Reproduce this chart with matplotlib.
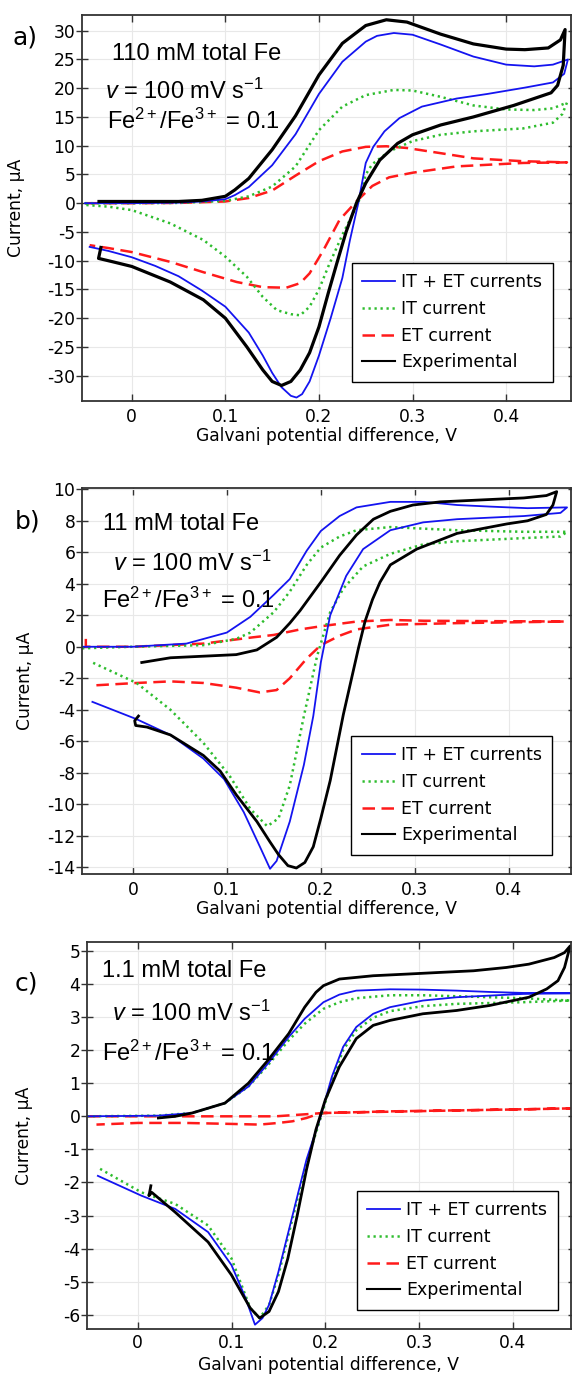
import matplotlib
matplotlib.use("Agg")
import matplotlib.pyplot as plt

# Cyclic voltammograms, potential in V and current in uA.
# Every curve is listed forward scan first, then the reverse scan.

# ---- panel a) 110 mM total Fe
a_sim_E = [-0.05, 0.0, 0.05, 0.075, 0.1, 0.11, 0.125, 0.15, 0.175, 0.2, 0.225, 0.25, 0.262, 0.28, 0.3, 0.33, 0.365, 0.4,
           0.43, 0.45, 0.466,
           0.462, 0.45, 0.42, 0.38, 0.347, 0.31, 0.286, 0.27, 0.258, 0.25, 0.242, 0.233, 0.225, 0.2125, 0.2, 0.19,
           0.182, 0.176, 0.17, 0.16, 0.15, 0.14, 0.125, 0.1, 0.075, 0.05, 0.025, 0.0, -0.025, -0.045]
a_sim_I = [0, 0, 0.1, 0.3, 0.7, 1.4, 2.8, 6.6, 12.0, 19.0, 24.6, 28.1, 29.1, 29.6, 29.3, 27.6, 25.5, 24.1,
           23.8, 24.1, 25.0,
           22.5, 21.0, 20.1, 19.0, 18.2, 16.8, 14.8, 12.5, 9.8, 7.0, 0.0, -6.5, -13.0, -20.0, -26.5, -31.0,
           -33.2, -33.8, -33.5, -32.0, -29.5, -26.5, -22.5, -18.0, -15.2, -12.7, -10.9, -9.4, -8.3, -7.6]

a_it_E = [-0.05, 0.0, 0.05, 0.1, 0.125, 0.15, 0.175, 0.2, 0.225, 0.25, 0.28, 0.3, 0.33, 0.365, 0.4, 0.43, 0.45, 0.465,
          0.46, 0.45, 0.418, 0.365, 0.33, 0.3, 0.275, 0.257, 0.25, 0.242, 0.225, 0.21, 0.2, 0.19, 0.18, 0.17, 0.155,
          0.14, 0.123, 0.1, 0.0765, 0.041, 0.0, -0.025, -0.05]
a_it_I = [0, 0, 0.05, 0.4, 1.2, 2.9, 6.4, 12.7, 16.8, 18.8, 19.7, 19.6, 18.5, 17.0, 16.3, 16.2, 16.5, 17.5,
          15.5, 14.0, 13.0, 12.5, 11.9, 10.8, 9.0, 6.8, 5.0, 0.0, -5.5, -11.0, -15.0, -18.0, -19.5, -19.3, -18.6,
          -16.3, -12.8, -9.3, -6.4, -3.5, -1.2, -0.6, -0.3]

a_et_E = [-0.05, 0.0, 0.05, 0.1, 0.125, 0.15, 0.175, 0.2, 0.225, 0.25, 0.272, 0.294, 0.33, 0.365, 0.418, 0.465,
          0.418, 0.347, 0.3, 0.275, 0.257, 0.24, 0.222, 0.205, 0.19, 0.18, 0.165, 0.14, 0.112, 0.0765, 0.041, 0.0,
          -0.025, -0.045]
a_et_I = [0, 0, 0.05, 0.3, 0.9, 2.2, 4.8, 7.3, 9.0, 9.8, 9.9, 9.6, 8.7, 7.8, 7.3, 7.1,
          7.0, 6.4, 5.3, 4.5, 3.0, 0.3, -2.9, -8.1, -12.2, -13.9, -14.7, -14.6, -13.7, -12.0, -10.2, -8.5,
          -7.8, -7.3]

a_exp_E = [-0.035, 0.0, 0.05, 0.075, 0.1, 0.11, 0.125, 0.15, 0.175, 0.2, 0.225, 0.25, 0.272, 0.294, 0.33, 0.365, 0.4,
           0.42, 0.445, 0.458, 0.463,
           0.461, 0.455, 0.448, 0.408, 0.365, 0.33, 0.3, 0.284, 0.265, 0.25, 0.24, 0.229, 0.219, 0.21, 0.2, 0.19,
           0.18, 0.17, 0.16, 0.15, 0.14, 0.123, 0.1, 0.0765, 0.041, 0.0, -0.02, -0.0355, -0.033]
a_exp_I = [0.3, 0.3, 0.3, 0.5, 1.2, 2.3, 4.3, 9.3, 15.2, 22.3, 27.8, 30.9, 31.9, 31.5, 29.4, 27.7, 26.8,
           26.7, 27.0, 28.4, 30.2,
           24.0, 20.5, 19.2, 17.0, 15.0, 13.6, 11.9, 10.4, 7.5, 3.5, 0.0, -5.0, -10.5, -15.6, -21.5, -26.0,
           -29.0, -31.0, -31.7, -31.0, -29.0, -25.0, -20.0, -16.8, -13.7, -11.0, -10.2, -9.6, -7.7]

# ---- panel b) 11 mM total Fe
b_sim_E = [-0.054, 0.0, 0.057, 0.1, 0.125, 0.15, 0.167, 0.185, 0.2, 0.22, 0.238, 0.274, 0.31, 0.345, 0.38, 0.42, 0.462,
           0.455, 0.416, 0.345, 0.309, 0.274, 0.245, 0.227, 0.21, 0.2, 0.192, 0.182, 0.167, 0.153, 0.146, 0.136,
           0.118, 0.097, 0.075, 0.04, 0.004, -0.043]
b_sim_I = [0, 0, 0.2, 0.9, 1.9, 3.3, 4.3, 6.1, 7.35, 8.3, 8.85, 9.2, 9.2, 9.0, 8.9, 8.8, 8.85,
           8.5, 8.3, 8.1, 7.9, 7.4, 6.2, 4.5, 2.0, -1.0, -4.4, -7.5, -11.1, -13.6, -14.1, -12.8,
           -10.5, -8.4, -7.1, -5.6, -4.6, -3.5]

b_it_E = [-0.054, 0.0, 0.075, 0.11, 0.125, 0.15, 0.167, 0.185, 0.2, 0.22, 0.238, 0.274, 0.309, 0.345, 0.416, 0.462,
          0.455, 0.416, 0.345, 0.309, 0.274, 0.245, 0.224, 0.21, 0.196, 0.182, 0.167, 0.155, 0.143, 0.125, 0.103,
          0.075, 0.04, 0.004, -0.043]
b_it_I = [-0.1, 0.0, 0.1, 0.5, 0.9, 2.2, 3.5, 5.2, 6.3, 7.0, 7.4, 7.6, 7.5, 7.4, 7.3, 7.3,
          7.0, 6.9, 6.7, 6.5, 5.9, 5.1, 3.7, 2.2, -0.6, -4.4, -8.8, -10.9, -11.4, -10.3, -8.2,
          -6.1, -4.0, -2.3, -1.0]

b_et_E = [-0.05, -0.05, 0.0, 0.075, 0.128, 0.15, 0.178, 0.2, 0.238, 0.274, 0.31, 0.46,
          0.345, 0.274, 0.238, 0.22, 0.2, 0.185, 0.167, 0.153, 0.135, 0.11, 0.075, 0.04, 0.004, -0.04]
b_et_I = [0.5, 0.0, 0.0, 0.2, 0.6, 0.75, 1.1, 1.3, 1.6, 1.7, 1.65, 1.6,
          1.5, 1.4, 1.1, 0.7, 0.1, -0.75, -2.0, -2.75, -2.9, -2.6, -2.3, -2.2, -2.3, -2.45]

b_exp_E = [0.0095, 0.04, 0.075, 0.11, 0.132, 0.153, 0.167, 0.178, 0.2, 0.22, 0.238, 0.256, 0.274, 0.298, 0.327, 0.38,
           0.416, 0.44, 0.451,
           0.447, 0.44, 0.42, 0.398, 0.345, 0.302, 0.274, 0.263, 0.255, 0.247, 0.24, 0.232, 0.224, 0.21, 0.2, 0.192,
           0.183, 0.174, 0.165, 0.155, 0.146, 0.132, 0.11, 0.093, 0.075, 0.04, 0.015, 0.003, 0.002, 0.006]
b_exp_I = [-1.0, -0.7, -0.6, -0.5, -0.2, 0.6, 1.5, 2.3, 4.1, 5.8, 7.1, 8.1, 8.6, 9.0, 9.2, 9.35,
           9.45, 9.6, 9.85,
           9.0, 8.4, 8.0, 7.8, 7.2, 6.2, 5.2, 4.1, 3.0, 1.6, -0.1, -2.2, -4.3, -8.5, -10.9, -12.7,
           -13.7, -14.05, -13.9, -13.2, -12.4, -11.1, -9.4, -7.9, -6.9, -5.6, -5.1, -5.0, -4.7, -4.4]

# ---- panel c) 1.1 mM total Fe
c_sim_E = [-0.054, 0.022, 0.058, 0.093, 0.118, 0.139, 0.161, 0.178, 0.198, 0.215, 0.233, 0.269, 0.304, 0.34, 0.375,
           0.411, 0.461,
           0.411, 0.34, 0.304, 0.269, 0.251, 0.233, 0.219, 0.207, 0.195, 0.18, 0.165, 0.15, 0.14, 0.133, 0.125,
           0.115, 0.1, 0.075, 0.04, 0.004, -0.0425]
c_sim_I = [0, 0.02, 0.1, 0.4, 0.9, 1.6, 2.4, 2.95, 3.45, 3.68, 3.8, 3.84, 3.83, 3.8, 3.76,
           3.73, 3.72,
           3.7, 3.6, 3.5, 3.3, 3.1, 2.7, 2.1, 1.2, 0.0, -1.3, -3.0, -4.7, -5.7, -6.1, -6.3,
           -5.5, -4.5, -3.5, -2.8, -2.4, -1.8]

c_it_E = [-0.054, 0.022, 0.058, 0.093, 0.118, 0.139, 0.161, 0.178, 0.198, 0.215, 0.233, 0.269, 0.304, 0.34, 0.411,
          0.461,
          0.411, 0.34, 0.304, 0.269, 0.251, 0.233, 0.219, 0.207, 0.195, 0.18, 0.165, 0.15, 0.14, 0.13, 0.12, 0.1,
          0.075, 0.04, 0.004, -0.0425]
c_it_I = [0, 0.02, 0.1, 0.4, 0.9, 1.55, 2.3, 2.8, 3.25, 3.45, 3.57, 3.66, 3.66, 3.63, 3.57,
          3.5,
          3.45, 3.4, 3.33, 3.18, 2.98, 2.6, 2.0, 1.1, -0.05, -1.4, -3.1, -4.8, -5.7, -6.1, -5.8, -4.3,
          -3.3, -2.65, -2.3, -1.55]

c_et_E = [-0.054, 0.147, 0.178, 0.198, 0.269, 0.34, 0.411, 0.461,
          0.269, 0.198, 0.19, 0.18, 0.165, 0.15, 0.13, 0.1, 0.05, 0.0, -0.044]
c_et_I = [0, 0, 0.06, 0.1, 0.15, 0.18, 0.21, 0.24,
          0.14, 0.1, 0.05, -0.05, -0.15, -0.2, -0.25, -0.23, -0.2, -0.2, -0.25]

c_exp_E = [0.022, 0.04, 0.058, 0.093, 0.118, 0.139, 0.161, 0.178, 0.19, 0.198, 0.215, 0.251, 0.287, 0.322, 0.358,
           0.393, 0.417, 0.444, 0.455, 0.461,
           0.455, 0.448, 0.436, 0.417, 0.375, 0.34, 0.304, 0.269, 0.251, 0.233, 0.215, 0.2, 0.19, 0.18, 0.17, 0.16,
           0.15, 0.14, 0.13, 0.12, 0.1, 0.075, 0.04, 0.015, 0.012, 0.014]
c_exp_I = [-0.05, 0.0, 0.1, 0.4, 1.0, 1.7, 2.5, 3.3, 3.75, 3.95, 4.15, 4.25, 4.3, 4.35, 4.4,
           4.5, 4.6, 4.8, 4.95, 5.15,
           4.5, 4.1, 3.85, 3.6, 3.35, 3.2, 3.1, 2.9, 2.75, 2.35, 1.5, 0.5, -0.4, -1.6, -3.0, -4.3,
           -5.3, -5.9, -6.1, -5.8, -4.8, -3.8, -2.9, -2.3, -2.4, -2.1]

legend_labels = ["IT + ET currents", "IT current", "ET current", "Experimental"]
conc_labels = ["110 mM total Fe", "11 mM total Fe", "1.1 mM total Fe"]
panel_letters = ["a)", "b)", "c)"]
a_yticks = list(range(-30, 31, 5))
b_yticks = list(range(-14, 11, 2))
c_yticks = list(range(-6, 6, 1))
x_ticks = [0, 0.1, 0.2, 0.3, 0.4]

plt.rcParams["font.family"] = "DejaVu Sans"
plt.rcParams["font.size"] = 12.3
plt.rcParams["axes.unicode_minus"] = False
plt.rcParams["mathtext.fontset"] = "custom"
plt.rcParams["mathtext.rm"] = "Liberation Sans"
plt.rcParams["mathtext.it"] = "Liberation Sans:italic"

W, H = 572, 1376
fig = plt.figure(figsize=(W / 100, H / 100), dpi=100)


def px_box(left, top, right, bottom):
    # pixel box -> figure fraction [x0, y0, w, h]
    return [left / W, 1 - bottom / H, (right - left) / W, (bottom - top) / H]


def draw_panel(box, xlim, ylim, yticks, curves, exp_lw, ylabel_x, legend_xy, xlabel_off=35, tick_pad=5):
    ax = fig.add_axes(px_box(*box))
    sim_E, sim_I, it_E, it_I, et_E, et_I, exp_E, exp_I = curves

    # plot in back-to-front order, legend order is handled separately
    l_et, = ax.plot(et_E, et_I, color="#ff1a1a", lw=1.8, ls=(0, (5, 2.6)))
    l_it, = ax.plot(it_E, it_I, color="#2ebd2e", lw=1.8, ls=(0, (0.9, 1.5)))
    l_sim, = ax.plot(sim_E, sim_I, color="#1414f0", lw=1.3)
    l_exp, = ax.plot(exp_E, exp_I, color="black", lw=exp_lw)

    ax.set_xlim(*xlim)
    ax.set_ylim(*ylim)
    ax.set_xticks(x_ticks)
    ax.set_xticklabels(["0", "0.1", "0.2", "0.3", "0.4"])
    ax.set_yticks(yticks)
    ax.grid(True, color="#e8e8e8", lw=0.8)
    ax.set_axisbelow(True)

    for sp in ax.spines.values():
        sp.set_color("#333333")
        sp.set_linewidth(1.3)
    ax.tick_params(axis="x", which="both", direction="in", top=True, length=5, width=1,
                   color="#333333", pad=tick_pad)
    ax.tick_params(axis="y", which="both", direction="inout", length=8, width=1,
                   color="#333333", pad=0.5)
    ax.tick_params(axis="y", right=True)
    for t in ax.yaxis.get_major_ticks():
        t.tick2line.set_markersize(5)

    ax.set_xlabel("Galvani potential difference, V")
    ax.xaxis.label.set_va("center")
    ax.xaxis.set_label_coords(0.5, -xlabel_off / (box[3] - box[1]))
    ax.set_ylabel("Current, \u03bcA")
    ax.yaxis.label.set_va("center")
    ax.yaxis.set_label_coords(ylabel_x, 0.5)

    # thinner black handle in the legend than in the plot
    h_exp = plt.Line2D([], [], color="black", lw=1.5)
    leg = ax.legend([l_sim, l_it, l_et, h_exp], legend_labels, loc="upper left",
                    bbox_to_anchor=legend_xy, fontsize=12.5, frameon=True, fancybox=False,
                    framealpha=1, edgecolor="black", borderpad=0.6, labelspacing=0.5,
                    handlelength=1.9, handletextpad=0.35, borderaxespad=0)
    leg.get_frame().set_linewidth(1.0)
    return ax


draw_panel((81.7, 15, 571, 401), (-0.0535, 0.4693), (-34.4, 32.73), a_yticks,
           (a_sim_E, a_sim_I, a_it_E, a_it_I, a_et_E, a_et_I, a_exp_E, a_exp_I), 2.3, -0.1335,
           (0.552, 0.3575))
draw_panel((81.7, 487.7, 571, 874.3), (-0.0544, 0.4662), (-14.45, 10.1), b_yticks,
           (b_sim_E, b_sim_I, b_it_E, b_it_I, b_et_E, b_et_I, b_exp_E, b_exp_I), 2.0, -0.1167,
           (0.551, 0.3577))
draw_panel((86.7, 942, 571, 1329), (-0.0544, 0.4619), (-6.43, 5.27), c_yticks,
           (c_sim_E, c_sim_I, c_it_E, c_it_I, c_et_E, c_et_I, c_exp_E, c_exp_I), 2.0, -0.130,
           (0.5577, 0.357), xlabel_off=36, tick_pad=3.5)

# annotation text, placed in pixel coordinates
text_pos = [
    [(111.7, 54), (105, 91.7), (106.7, 121.7)],
    [(103.3, 523.7), (113.3, 563.7), (101.7, 600.3)],
    [(101.7, 971), (111.7, 1013), (101.7, 1053)],
]
letter_pos = [(25, 37.5), (28, 521), (26.5, 983)]
for i in range(3):
    lines = [conc_labels[i], r"$\mathit{v}$ = 100 mV s$^{-1}$", r"Fe$^{2+}$/Fe$^{3+}$ = 0.1"]
    for txt, (x, y) in zip(lines, text_pos[i]):
        fig.text(x / W, 1 - y / H, txt, fontsize=17, family="Liberation Sans",
                 ha="left", va="center")
    lx, ly = letter_pos[i]
    fig.text(lx / W, 1 - ly / H, panel_letters[i], fontsize=18, ha="center", va="center")

fig.savefig("out.png", dpi=100)
